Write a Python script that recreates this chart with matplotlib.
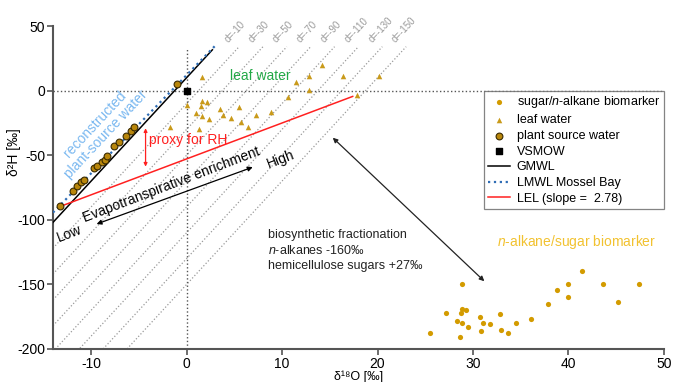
import numpy as np
import matplotlib
matplotlib.use('Agg')
import matplotlib.pyplot as plt

plt.rcParams['font.family'] = ['Liberation Sans', 'DejaVu Sans']
plt.rcParams['mathtext.fontset'] = 'custom'
plt.rcParams['mathtext.rm'] = 'Liberation Sans'
plt.rcParams['mathtext.it'] = 'Liberation Sans:italic'
plt.rcParams['axes.unicode_minus'] = False

# sugar / n-alkane biomarker
bio_o = [25.5, 27.2, 28.3, 28.6, 28.8, 28.7, 28.8, 29.3, 28.9, 29.5, 30.7, 30.8, 31.0, 31.8,
         32.8, 32.9, 33.7, 34.5, 36.1, 37.9, 38.8, 40.0, 40.0, 41.4, 43.6, 45.2, 47.4]
bio_h = [-188, -172, -178, -191, -150, -172, -169, -170, -180, -183, -175, -186, -180, -181,
         -173, -185, -188, -180, -177, -165, -154, -150, -160, -140, -150, -164, -150]

# leaf water
leaf_o = [1.6, 0.0, 1.6, 2.1, 1.5, 1.0, 1.65, 2.3, 3.5, 3.8, 4.6, 5.5, 5.65, 6.45,
          7.3, 8.8, 10.6, 11.5, 12.8, 12.8, 14.2, 16.4, -1.7, 1.3, 20.2, 17.9]
leaf_h = [10.5, -11.3, -7.7, -8.7, -12, -17, -19.7, -22.3, -14.6, -19.2, -21, -12.5, -24.4, -28,
          -19.2, -16.2, -4.9, 6.4, 0.8, 11, 20, 11, -28.2, -30, 11, -3.6]

# plant source water
src_o = [-13.3, -11.9, -11.5, -11.1, -10.8, -9.7, -9.4, -8.9, -8.6, -8.3, -7.6, -7.1, -6.3, -5.8, -5.5, -1.0]
src_h = [-89, -77.7, -73.8, -70.8, -69, -60, -58, -55.4, -53.8, -50.8, -43, -40, -35, -31, -28.5, 5]

# lines
gmwl_x = [-14, 2.7]
gmwl_slope, gmwl_int = 8, 10
lmwl_x = [-14, 3.0]
lmwl_slope, lmwl_int = 7.6, 12
lel_x = [-13.0, 17.4]
lel_slope = 2.78
lel_start_h = -89

d_values = [-10, -30, -50, -70, -90, -110, -130, -150]
d_top = 34

fig = plt.figure(figsize=(6.74, 3.82), dpi=100)
ax = fig.add_axes([0.0786, 0.0864, 0.9064, 0.8455])

# d-excess lines
for d in d_values:
    x1 = (d_top - d) / 8
    xs = np.array([-14, x1])
    ax.plot(xs, 8 * xs + d, ls=':', color='#9a9a9a', lw=0.9, zorder=1)
    ax.text(x1 - 0.9, d_top + 2, f'd={d}', rotation=47, rotation_mode='anchor',
            ha='left', va='bottom', fontsize=7, color='#9a9a9a')

ax.axhline(0, ls=':', color='#555555', lw=1, zorder=1)
ax.plot([0, 0], [-200, 33], ls=':', color='#555555', lw=1, zorder=1)

gx = np.array(gmwl_x)
ax.plot(gx, gmwl_slope * gx + gmwl_int, color='black', lw=1.1, label='GMWL', zorder=3)
lx = np.array(lmwl_x)
ax.plot(lx, lmwl_slope * lx + lmwl_int, ls=':', color='#2f6db5', lw=1.6, label='LMWL Mossel Bay', zorder=3)
rx = np.array(lel_x)
ax.plot(rx, lel_start_h + lel_slope * (rx - rx[0]), color='#ff2020', lw=1.1,
        label='LEL (slope =  2.78)', zorder=3)

ax.scatter(bio_o, bio_h, s=14, color='#d39b00', lw=0, zorder=4,
           label='sugar/$\\it{n}$-alkane biomarker')
ax.scatter(leaf_o, leaf_h, s=16, marker='^', color='#c99a1a', lw=0, zorder=4, label='leaf water')
ax.scatter(src_o, src_h, s=24, color='#b8860b', edgecolor='#3a2a00', lw=0.8, zorder=5,
           label='plant source water')
ax.scatter([0], [0], s=22, marker='s', color='black', zorder=5, label='VSMOW')

# annotations
ax.text(-9.0, -30, 'reconstructed\nplant-source water', rotation=47, rotation_mode='anchor',
        ha='center', va='center', fontsize=10, color='#7ab8f0', linespacing=1.1)
ax.annotate('', xy=(-4.3, -27), xytext=(-4.3, -61),
            arrowprops=dict(arrowstyle='<|-|>', color='#ff2020', lw=0.9, mutation_scale=5))
ax.text(-3.9, -38.5, 'proxy for RH', color='#ff2020', fontsize=10, ha='left', va='center')
ax.text(4.5, 11.5, 'leaf water', color='#22a846', fontsize=10, ha='left', va='center')

ax.annotate('', xy=(-9.7, -104), xytext=(7.2, -58.5),
            arrowprops=dict(arrowstyle='<|-|>', color='black', lw=0.9, mutation_scale=7))
ax.text(-1.6, -73, 'Evapotranspirative enrichment', rotation=21, rotation_mode='anchor',
        ha='center', va='center', fontsize=10)
ax.text(-12.3, -111, 'Low', rotation=21, rotation_mode='anchor', ha='center', va='center', fontsize=10)
ax.text(9.9, -53, 'High', rotation=21, rotation_mode='anchor', ha='center', va='center', fontsize=10)

ax.annotate('', xy=(15.1, -35), xytext=(31.4, -149),
            arrowprops=dict(arrowstyle='<|-|>', color='#222222', lw=0.9, mutation_scale=7))
ax.text(8.5, -107, 'biosynthetic fractionation\n$\\it{n}$-alkanes -160‰\nhemicellulose sugars +27‰',
        fontsize=9, ha='left', va='top', linespacing=1.3, color='#222222')
ax.text(32.5, -117, '$\\it{n}$-alkane/sugar biomarker', fontsize=10, color='#f2c230',
        ha='left', va='center')

ax.set_xlim(-14, 50)
ax.set_ylim(-200, 50)
ax.set_xticks([-10, 0, 10, 20, 30, 40, 50])
ax.set_yticks([-200, -150, -100, -50, 0, 50])
for side in ['top', 'right']:
    ax.spines[side].set_visible(False)
for side in ['left', 'bottom']:
    ax.spines[side].set_color('#555555')
    ax.spines[side].set_linewidth(1.5)
ax.tick_params(direction='out', length=4, width=1.2, color='#555555', labelsize=10, pad=1.5)
ax.set_xlabel('δ¹⁸O [‰]', fontsize=9)
ax.xaxis.set_label_coords(0.5, -0.066)
ax.set_ylabel('δ²H [‰]', fontsize=10)
ax.yaxis.set_label_coords(-0.053, 0.61)

handles, labels = ax.get_legend_handles_labels()
order = ['sugar/$\\it{n}$-alkane biomarker', 'leaf water', 'plant source water', 'VSMOW',
         'GMWL', 'LMWL Mossel Bay', 'LEL (slope =  2.78)']
hmap = dict(zip(labels, handles))
leg = ax.legend([hmap[k] for k in order], order, loc='upper right', bbox_to_anchor=(1.0, 0.8),
                fontsize=9, frameon=True, fancybox=False, edgecolor='#666666',
                borderaxespad=0, handlelength=1.75, handletextpad=0.55, labelspacing=0.3,
                borderpad=0.3)
leg.get_frame().set_linewidth(0.9)

fig.savefig('out.png', dpi=100)
